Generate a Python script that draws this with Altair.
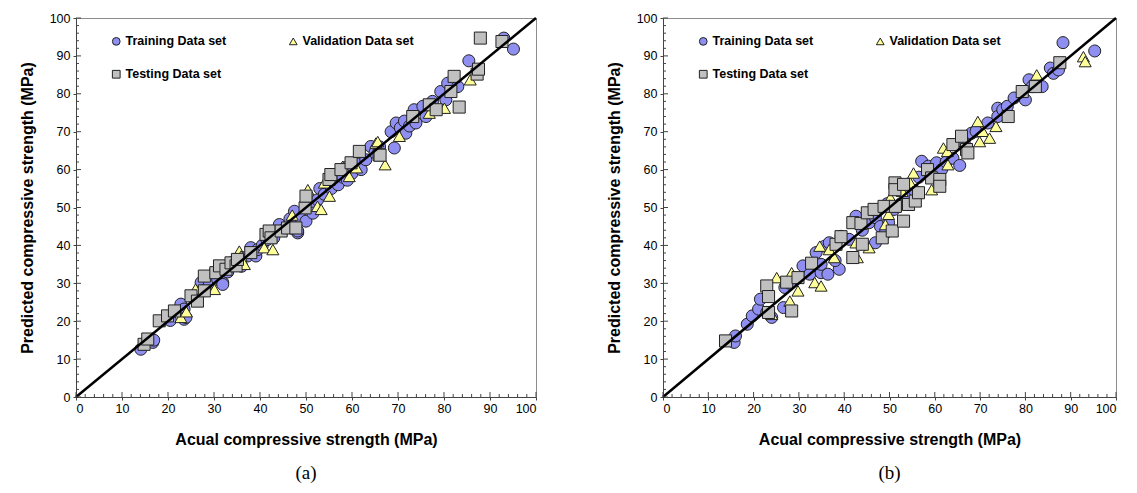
import altair as alt
import pandas as pd

SERIES = ["Training Data set", "Testing Data set", "Validation Data set"]  # legend fills column-wise
FILLS = ["#8f8ff2", "#c0c0c0", "#ffff99"]
SHAPES = ["circle", "square", "triangle-up"]

# ---------- Panel (a) ----------
A_TRAIN_X = [14.1, 16.7, 16.9, 20.5, 22.8, 23.5, 23.5, 23.9, 26.5, 27.2, 27.5, 29.0, 30.8, 31.9, 31.9, 33.0, 34.0, 36.0,
             37.3, 38.0, 39.1, 39.5, 40.5, 41.5, 43.0, 44.2, 45.5, 46.5, 47.5, 48.2, 48.2, 49.0, 50.0, 51.0, 51.5, 52.5,
             53.0, 54.0, 55.5, 56.0, 57.0, 58.0, 58.5, 59.0, 60.0, 61.0, 62.0, 63.0, 64.1, 65.0, 66.0, 68.5, 69.2, 69.6,
             70.5, 71.4, 71.7, 72.5, 73.5, 73.9, 75.4, 76.1, 77.5, 79.3, 80.4, 80.8, 83.0, 85.4, 93.0, 95.1]
A_TRAIN_Y = [12.6, 14.4, 15.0, 20.2, 24.5, 23.2, 20.5, 21.0, 27.5, 30.2, 28.0, 30.2, 31.0, 30.2, 29.7, 33.0, 35.5, 34.5,
             37.2, 39.4, 37.2, 38.9, 40.0, 41.5, 42.0, 45.5, 44.5, 47.0, 49.0, 43.3, 43.8, 47.0, 46.4, 50.5, 48.5, 52.0,
             55.0, 53.5, 55.0, 57.5, 56.0, 58.0, 60.5, 57.2, 59.0, 61.5, 60.0, 62.6, 66.1, 64.5, 66.0, 70.0, 65.7, 72.3,
             71.0, 72.8, 69.6, 71.5, 75.8, 72.3, 76.7, 74.0, 78.0, 80.6, 78.4, 82.8, 81.9, 88.7, 94.7, 91.8]
A_VAL_X = [19.6, 22.8, 24.0, 26.0, 29.3, 30.1, 35.5, 35.9, 36.6, 40.9, 42.8, 47.0, 50.4, 52.5, 53.3, 54.0, 55.1, 58.0,
           59.4, 61.0, 65.2, 65.6, 67.2, 70.3, 76.8, 80.1, 85.7]
A_VAL_Y = [21.4, 21.0, 22.5, 28.5, 32.8, 28.4, 38.5, 37.2, 35.0, 39.4, 38.9, 48.0, 54.7, 50.3, 49.5, 56.5, 53.0, 60.9,
           58.2, 60.5, 67.0, 67.4, 61.3, 68.8, 74.9, 76.2, 83.7]
A_TEST_X = [14.8, 15.6, 18.1, 19.9, 21.4, 25.0, 26.4, 27.9, 27.9, 30.4, 31.2, 32.6, 33.7, 34.8, 35.1, 38.0, 41.3, 42.0,
            42.4, 44.6, 46.0, 47.8, 49.8, 50.0, 55.0, 55.4, 57.6, 59.8, 61.6, 65.9, 66.1, 73.2, 76.8, 78.3, 81.5, 82.2,
            83.3, 87.2, 87.5, 87.9, 92.6]
A_TEST_Y = [13.9, 15.3, 20.1, 21.4, 22.7, 26.7, 25.3, 28.0, 31.9, 32.8, 34.6, 33.7, 35.4, 34.6, 36.3, 38.1, 42.9, 43.8,
            42.0, 43.8, 44.6, 44.6, 49.9, 53.0, 57.4, 58.7, 60.0, 61.8, 64.8, 63.9, 63.8, 74.0, 77.1, 75.8, 80.6, 84.6,
            76.5, 85.2, 86.5, 94.7, 93.8]

# ---------- Panel (b) ----------
B_TRAIN_X = [15.7, 16.0, 18.6, 19.7, 21.1, 21.5, 22.9, 24.0, 26.6, 26.9, 28.0, 30.9, 32.4, 33.8, 34.9, 34.9, 35.7, 36.4,
             36.7, 38.9, 38.0, 39.3, 41.1, 42.6, 44.0, 45.5, 46.9, 46.9, 48.0, 49.1, 49.8, 49.5, 51.0, 52.5, 54.0, 55.5,
             56.5, 57.1, 58.6, 60.4, 61.5, 62.5, 64.0, 65.5, 66.5, 68.1, 69.1, 71.7, 73.9, 73.9, 75.0, 76.0, 77.5, 80.0,
             80.8, 81.5, 83.7, 85.5, 86.2, 87.3, 88.3, 95.3]
B_TRAIN_Y = [14.4, 16.1, 19.2, 21.4, 23.2, 25.8, 22.3, 21.0, 23.6, 28.9, 30.0, 34.6, 32.4, 38.1, 32.8, 35.0, 39.8, 32.4,
             40.7, 33.7, 36.0, 42.4, 41.6, 47.7, 44.0, 46.0, 47.3, 40.7, 45.0, 43.3, 46.0, 51.0, 49.5, 51.0, 52.5, 54.5,
             58.0, 62.2, 60.9, 61.8, 60.0, 62.0, 63.0, 61.1, 67.0, 69.6, 70.1, 72.3, 76.2, 74.0, 75.8, 76.7, 78.9, 78.4,
             83.7, 81.9, 81.9, 86.8, 85.4, 86.3, 93.5, 91.3]
B_VAL_X = [24.0, 25.1, 28.0, 28.4, 29.8, 33.5, 34.6, 34.9, 36.7, 37.8, 42.6, 42.9, 45.5, 49.1, 49.8, 51.3, 50.2, 52.8,
           54.6, 55.3, 59.3, 61.9, 62.8, 62.9, 69.5, 69.9, 70.6, 72.1, 73.5, 82.5, 92.8, 93.2]
B_VAL_Y = [21.8, 31.5, 25.3, 32.8, 28.0, 30.2, 39.8, 29.3, 38.9, 36.8, 40.7, 36.8, 39.4, 45.5, 48.2, 50.3, 52.6, 54.3,
           56.5, 59.1, 54.7, 65.7, 64.8, 61.3, 72.7, 67.4, 70.1, 68.3, 71.4, 85.0, 89.8, 88.5]
B_TEST_X = [13.8, 22.9, 23.3, 23.3, 27.3, 28.4, 29.8, 32.8, 38.2, 39.3, 41.9, 41.9, 43.7, 44.0, 45.1, 46.6, 48.4, 48.8,
            50.6, 51.2, 51.2, 51.3, 53.1, 53.1, 54.2, 55.7, 56.4, 58.4, 59.3, 61.1, 61.1, 64.0, 65.9, 67.0, 67.3, 76.2,
            79.3, 82.2, 87.6]
B_TEST_Y = [14.8, 29.3, 26.5, 22.3, 30.3, 22.7, 31.5, 35.3, 40.3, 42.3, 36.8, 46.0, 45.8, 40.3, 48.6, 49.5, 42.0, 50.3,
            43.8, 56.5, 54.7, 50.3, 46.4, 56.1, 50.8, 51.7, 53.9, 60.0, 57.8, 57.4, 55.6, 66.6, 68.8, 65.3, 64.4, 74.0,
            80.6, 81.9, 88.2]

LINE_X = [0, 100]
LINE_Y = [0, 100]
MAJOR_TICKS = [0, 10, 20, 30, 40, 50, 60, 70, 80, 90, 100]
MINOR_TICKS = [v for v in range(0, 101, 2) if v % 10 != 0]

FONT = "Liberation Sans"
H = 379


def panel(tx, ty, vx, vy, sx, sy, caption, width):
    rows = []
    for name, xs, ys in [("Training Data set", tx, ty), ("Validation Data set", vx, vy), ("Testing Data set", sx, sy)]:
        rows += [{"series": name, "actual": a, "pred": p} for a, p in zip(xs, ys)]
    df = pd.DataFrame(rows)
    xsc = alt.Scale(domain=[0, 100], nice=False, zero=False)
    ysc = alt.Scale(domain=[0, 100], nice=False, zero=False)
    xaxis = alt.Axis(values=MAJOR_TICKS, tickSize=3, labelPadding=2, titlePadding=17, labelOverlap=False,
                     title="Acual compressive strength (MPa)")
    yaxis = alt.Axis(values=MAJOR_TICKS, tickSize=3, labelPadding=3, titlePadding=14, labelOverlap=False,
                     title="Predicted compressive strength (MPa)")
    leg = alt.Legend(orient="none", legendX=34, legendY=17, columns=2, columnPadding=60, rowPadding=20,
                     title=None, labelFont=FONT, labelFontWeight="bold", labelFontSize=12.5,
                     symbolSize=60, symbolStrokeColor="#222222", symbolStrokeWidth=1, labelOffset=3,
                     labelColor="black", labelLimit=300)
    points = alt.Chart(df).mark_point(filled=True, opacity=1, size=145, stroke="#222222", strokeWidth=1).encode(
        x=alt.X("actual:Q", scale=xsc, axis=xaxis),
        y=alt.Y("pred:Q", scale=ysc, axis=yaxis),
        color=alt.Color("series:N", scale=alt.Scale(domain=SERIES, range=FILLS), legend=leg),
        shape=alt.Shape("series:N", scale=alt.Scale(domain=SERIES, range=SHAPES), legend=leg),
    )
    line = alt.Chart(pd.DataFrame({"x": LINE_X, "y": LINE_Y})).mark_line(color="black", strokeWidth=2.5).encode(
        x=alt.X("x:Q", scale=xsc, axis=xaxis), y=alt.Y("y:Q", scale=ysc, axis=yaxis))
    majors = pd.DataFrame({"v": MAJOR_TICKS})
    minors = pd.DataFrame({"v": MINOR_TICKS})
    tick_color = "#444444"
    xmaj = alt.Chart(majors).mark_rule(color=tick_color, strokeWidth=1).encode(
        x=alt.X("v:Q", scale=xsc, axis=xaxis), y=alt.value(H), y2=alt.value(H - 5))
    xmin = alt.Chart(minors).mark_rule(color=tick_color, strokeWidth=1).encode(
        x=alt.X("v:Q", scale=xsc, axis=xaxis), y=alt.value(H), y2=alt.value(H - 3))
    ymaj = alt.Chart(majors).mark_rule(color=tick_color, strokeWidth=1).encode(
        y=alt.Y("v:Q", scale=ysc, axis=yaxis), x=alt.value(0), x2=alt.value(5))
    ymin = alt.Chart(minors).mark_rule(color=tick_color, strokeWidth=1).encode(
        y=alt.Y("v:Q", scale=ysc, axis=yaxis), x=alt.value(0), x2=alt.value(3))
    return alt.layer(points, line, xmaj, xmin, ymaj, ymin).properties(
        width=width, height=H,
        title=alt.TitleParams(caption, orient="bottom", anchor="middle", font="Liberation Serif",
                              fontSize=19, fontWeight="normal", color="black", offset=16),
    )


left = panel(A_TRAIN_X, A_TRAIN_Y, A_VAL_X, A_VAL_Y, A_TEST_X, A_TEST_Y, "(a)", 460)
right = panel(B_TRAIN_X, B_TRAIN_Y, B_VAL_X, B_VAL_Y, B_TEST_X, B_TEST_Y, "(b)", 453)

chart = alt.hconcat(left, right, spacing=63).resolve_scale(
    color="independent", shape="independent"
).properties(
    padding={"left": 10, "top": 3, "right": 0, "bottom": 0},
    background="white",
).configure_view(
    stroke="#8c8c8c", strokeWidth=1
).configure_axis(
    grid=False, labelFont=FONT, labelFontSize=12.5, labelColor="black",
    titleFont=FONT, titleFontSize=16, titleFontWeight="bold", titleColor="black",
    domainColor="#444444", tickColor="#444444", domainWidth=1
)

chart.save("out.html", embed_options={"renderer": "svg", "actions": False})
